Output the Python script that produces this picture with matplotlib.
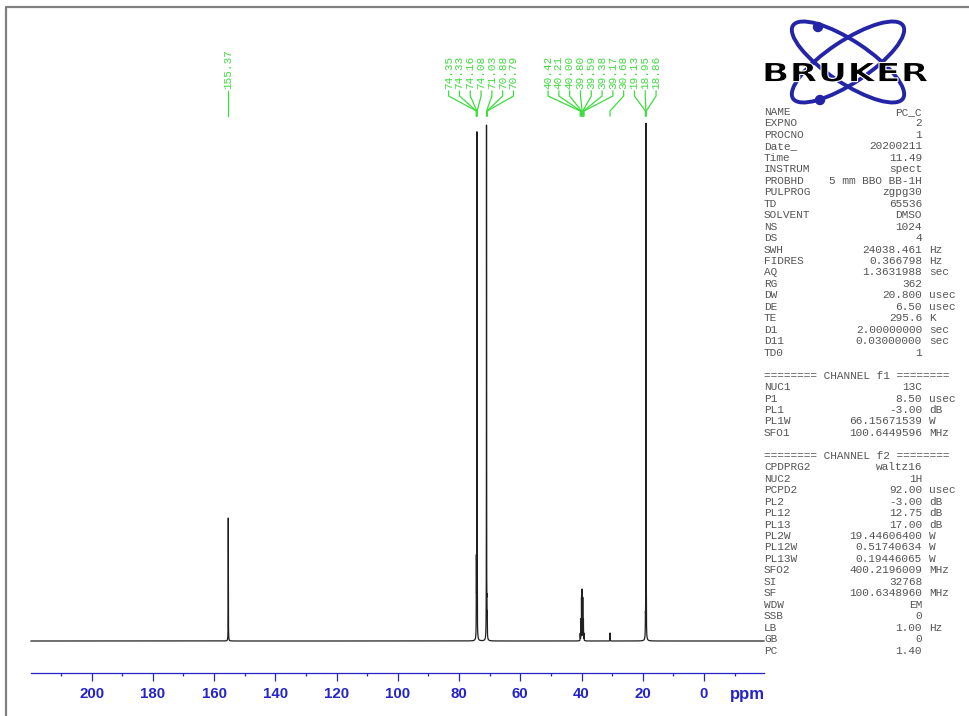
import numpy as np
import matplotlib
matplotlib.use("Agg")
import matplotlib.pyplot as plt
from matplotlib.patches import Ellipse, Circle, PathPatch
from matplotlib.textpath import TextPath
from matplotlib.font_manager import FontProperties
from matplotlib.transforms import Affine2D

# 13C peak list: shift (ppm) and height (plot units above baseline)
peak_ppm = [155.37,
            74.35, 74.33, 74.16, 74.08, 71.03, 70.88, 70.79,
            40.42, 40.21, 40.00, 39.80, 39.59, 39.38, 39.17,
            30.68, 19.13, 18.95, 18.86]
peak_int = [123,
            40, 40, 500, 60, 515, 25, 20,
            7, 21, 42, 50, 42, 21, 7,
            8, 15, 515, 25]

# peaks picked together share one fan of labels
label_groups = [[155.37],
                [74.35, 74.33, 74.16, 74.08, 71.03, 70.88, 70.79],
                [40.42, 40.21, 40.00, 39.80, 39.59, 39.38, 39.17,
                 30.68, 19.13, 18.95, 18.86]]

major_ticks = [200, 180, 160, 140, 120, 100, 80, 60, 40, 20, 0]

# acquisition / processing parameters
acq_names = ["NAME", "EXPNO", "PROCNO", "Date_", "Time", "INSTRUM", "PROBHD",
             "PULPROG", "TD", "SOLVENT", "NS", "DS", "SWH", "FIDRES", "AQ",
             "RG", "DW", "DE", "TE", "D1", "D11", "TD0"]
acq_values = ["PC_C", "2", "1", "20200211", "11.49", "spect", "5 mm BBO BB-1H",
              "zgpg30", "65536", "DMSO", "1024", "4", "24038.461", "0.366798",
              "1.3631988", "362", "20.800", "6.50", "295.6", "2.00000000",
              "0.03000000", "1"]
acq_units = ["", "", "", "", "", "", "", "", "", "", "", "", "Hz", "Hz", "sec",
             "", "usec", "usec", "K", "sec", "sec", ""]

f1_names = ["NUC1", "P1", "PL1", "PL1W", "SFO1"]
f1_values = ["13C", "8.50", "-3.00", "66.15671539", "100.6449596"]
f1_units = ["", "usec", "dB", "W", "MHz"]

f2_names = ["CPDPRG2", "NUC2", "PCPD2", "PL2", "PL12", "PL13", "PL2W", "PL12W",
            "PL13W", "SFO2", "SI", "SF", "WDW", "SSB", "LB", "GB", "PC"]
f2_values = ["waltz16", "1H", "92.00", "-3.00", "12.75", "17.00", "19.44606400",
             "0.51740634", "0.19446065", "400.2196009", "32768", "100.6348960",
             "EM", "0", "1.00", "0", "1.40"]
f2_units = ["", "", "usec", "dB", "dB", "dB", "W", "W", "W", "MHz", "", "MHz",
            "", "", "Hz", "", ""]

W, H = 970, 716
fig = plt.figure(figsize=(W / 100, H / 100), dpi=100)
fig.patch.set_facecolor("white")

# spectrum axes
ax = fig.add_axes([31 / W, (H - 673) / H, (764 - 31) / W, 552 / H])
ppm = np.linspace(219.8, -19.6, 120001)
spec = np.zeros_like(ppm)
hw = 0.03
for p, h in zip(peak_ppm, peak_int):
    spec += h / (1 + ((ppm - p) / hw) ** 2)
ax.plot(ppm, spec, color="#202020", lw=0.9, clip_on=False)
ax.set_xlim(219.8, -19.6)
ax.set_ylim(-32, 520)

blue = "#2424c8"
for s in ["top", "left", "right"]:
    ax.spines[s].set_visible(False)
ax.spines["bottom"].set_color(blue)
ax.spines["bottom"].set_linewidth(0.9)
ax.set_yticks([])
ax.set_xticks(major_ticks)
ax.set_xticks(np.arange(-10, 211, 10), minor=True)
ax.tick_params(axis="x", which="major", direction="out", length=5.8, width=0.9,
               color=blue, labelcolor=blue, pad=4)
ax.tick_params(axis="x", which="minor", direction="out", length=2.3, width=0.9,
               color=blue)
for t in ax.get_xticklabels():
    t.set_fontfamily("Liberation Sans")
    t.set_fontweight("bold")
    t.set_fontsize(10.8)
ax.patch.set_alpha(0)

# overlay in image pixel coordinates for labels, parameters and logo
ov = fig.add_axes([0, 0, 1, 1])
ov.set_xlim(0, W)
ov.set_ylim(H, 0)
ov.axis("off")
ov.patch.set_alpha(0)

ov.text(747, 695, "ppm", ha="center", va="center", color=blue,
        fontsize=12, fontweight="bold", family="Liberation Sans")

# peak labels with fan-shaped leader lines
green = "#3fdc3f"
spacing = 10.8
for group in label_groups:
    px = [ax.transData.transform((p, 0))[0] for p in group]
    center = np.mean(px)
    n = len(group)
    for i, (p, x) in enumerate(zip(group, px)):
        lx = center + (i - (n - 1) / 2) * spacing
        ov.text(lx, 89, f"{p:.2f}", rotation=90, ha="center", va="bottom",
                family="Liberation Mono", fontsize=8, color=green)
        ov.plot([lx, lx, x, x], [91, 96, 111, 116], color=green, lw=0.9)

# parameter listing
grey = "#555555"
step = 11.46
rows = []
for n_, v, u in zip(acq_names, acq_values, acq_units):
    rows.append((n_, v, u))
rows.append(None)
rows.append("======== CHANNEL f1 ========")
for n_, v, u in zip(f1_names, f1_values, f1_units):
    rows.append((n_, v, u))
rows.append(None)
rows.append("======== CHANNEL f2 ========")
for n_, v, u in zip(f2_names, f2_values, f2_units):
    rows.append((n_, v, u))

mono = dict(family="Liberation Mono", fontsize=8, color=grey, va="center")
for i, row in enumerate(rows):
    y = 112 + i * step
    if row is None:
        continue
    if isinstance(row, str):
        ov.text(764, y, row, ha="left", **mono)
        continue
    n_, v, u = row
    ov.text(764, y, n_, ha="left", **mono)
    ov.text(922, y, v, ha="right", **mono)
    if u:
        ov.text(929, y, u, ha="left", **mono)

# logo: two crossing orbits with electrons, lettering on top
orbit = "#2424a8"
for ang in (33.6, -33.6):
    ov.add_patch(Ellipse((848, 62), 132, 42, angle=ang, fill=False,
                         edgecolor=orbit, lw=2.8))
for cx, cy in [(818, 27), (820, 100)]:
    ov.add_patch(Circle((cx, cy), 4.5, color=orbit))

tp = TextPath((0, 0), "BRUKER", size=1,
              prop=FontProperties(family="DejaVu Sans", weight="bold"))
ext = tp.get_extents()
tr = (Affine2D().translate(-ext.x0, -ext.y0)
      .scale(163 / ext.width, -19.5 / ext.height)
      .translate(765, 82))
ov.add_patch(PathPatch(tr.transform_path(tp), facecolor="black",
                       edgecolor="white", lw=0.8, zorder=5))

# page border
ov.plot([6, 6, W], [H, 7, 7], color="#808080", lw=1.6)

fig.savefig("out.png", dpi=100)
